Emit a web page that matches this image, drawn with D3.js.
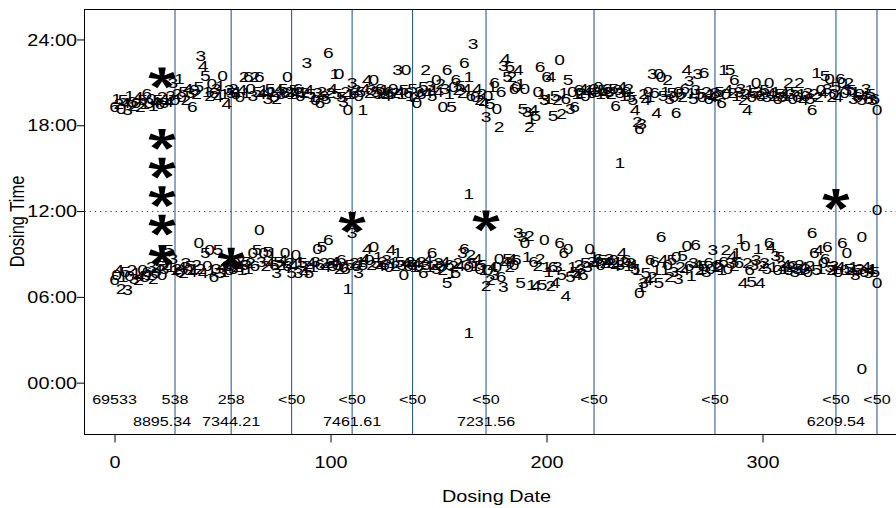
<!DOCTYPE html>
<html><head><meta charset="utf-8">
<script src="https://cdn.jsdelivr.net/npm/d3@7"></script>
<style>
html,body{margin:0;padding:0;background:#fff;}
text{font-family:"Liberation Sans",Arial,sans-serif;fill:#000;}
</style></head>
<body><svg id="chart" width="896" height="508"></svg>
<script>
// ---------- DATA ----------
const firstDay = 0;
const eveningHours = [
19.3,19.9,19.5,19.2,19.8,19.6,19.1,20.1,19.7,19.4,
19.6,20.0,19.3,19.8,19.5,20.2,19.6,19.9,19.4,19.7,
19.8,19.5,20.0,19.6,19.9,19.7,20.1,21.0,19.8,20.2,
21.3,20.0,20.4,19.8,20.6,20.3,19.3,20.5,20.2,20.7,
22.9,22.2,21.5,20.4,20.1,20.9,20.3,20.6,20.0,20.8,
21.5,20.2,19.5,20.5,20.3,20.6,20.2,20.4,20.0,20.5,
21.4,20.3,21.4,20.6,20.1,21.4,20.4,21.4,20.2,20.5,
20.3,19.9,20.6,20.4,20.0,19.9,20.5,20.2,20.6,20.3,
21.4,20.4,20.2,20.5,20.3,20.6,20.1,20.4,20.3,22.4,
20.5,20.2,20.0,19.8,20.3,19.6,20.4,20.1,19.9,23.1,
20.3,20.6,21.6,20.2,21.6,20.0,19.7,20.4,19.1,20.2,
21.0,20.3,20.5,20.1,20.4,19.1,20.6,21.2,20.3,20.5,
21.2,20.4,20.2,20.6,20.3,20.5,20.1,20.4,20.2,20.6,
20.3,21.9,20.4,20.2,20.5,21.9,20.3,20.1,20.6,20.0,
19.6,20.4,20.2,20.7,21.9,20.3,20.8,20.1,20.5,21.2,
20.4,20.9,19.3,20.6,21.9,20.2,19.3,20.7,21.2,20.5,
20.8,20.3,22.4,20.6,21.4,20.1,23.7,20.0,20.6,19.8,
20.2,19.6,18.6,20.1,19.5,20.7,21.0,19.2,17.9,20.4,
22.2,22.7,21.4,22.1,21.4,20.6,20.7,21.9,20.9,19.2,
20.6,19.0,17.9,18.5,19.1,18.7,20.4,22.1,20.2,19.8,
21.4,19.9,21.4,18.7,20.1,19.8,22.6,18.8,20.3,19.9,
21.2,19.2,20.4,19.3,20.2,20.5,20.3,20.6,20.1,20.4,
20.5,20.3,20.6,20.4,20.7,20.2,20.5,20.3,20.6,20.4,
20.2,20.6,19.4,20.5,20.3,20.7,20.1,20.4,20.6,20.0,
19.8,19.1,18.3,17.8,18.1,20.2,19.8,20.4,20.0,21.6,
20.3,18.9,21.6,21.4,20.1,20.4,21.2,19.9,20.3,20.0,
18.9,20.4,20.2,20.0,20.6,21.9,21.1,20.3,19.9,20.5,
21.6,20.2,20.0,21.7,20.4,19.9,20.2,20.0,20.3,20.1,
20.4,19.6,21.9,20.2,20.5,21.9,20.3,21.2,20.1,20.4,
20.6,19.8,20.2,19.1,20.5,20.0,20.3,21.0,20.4,20.1,
20.2,20.5,20.0,21.0,20.3,20.1,20.4,19.9,20.2,20.0,
20.3,20.1,21.0,20.2,19.9,20.4,20.0,21.0,20.2,19.8,
20.1,20.3,19.9,19.1,20.2,21.7,20.0,20.5,20.3,21.5,
20.6,21.3,20.0,20.2,20.7,20.0,21.3,21.0,20.3,20.5,
21.0,20.5,19.9,20.4,20.0,20.2,19.8,20.1,20.6,19.9,
20.2,19.8,19.9,19.1];
const eveningDigits =
"6120543162 0425163014 5620143302 1052436025 3451206341 0143526104 2160325641 4351024356 0215460123 4510362356 " +
"2415053201 3620514423 0536214650 2341506152 0365243510 4203615062 5264163042 2430516026 3455260415 0321450613 " +
"6145520216 5306162404 1623015463 2560341025 5426324013 6400512350 6052643153 3506261482 5610452613 3224165036 " +
"2530421653 4123056214 0356212045 3020546003 2531605436 5360";
const morningHours = [
7.2,7.6,7.9,6.6,7.4,7.8,6.5,7.5,7.9,7.3,
7.7,7.2,7.5,7.9,7.4,7.8,7.6,8.1,7.3,7.7,
7.9,8.2,7.6,8.0,8.3,9.3,8.1,8.7,7.9,8.0,
7.8,8.1,7.7,8.4,7.9,8.2,7.8,8.0,8.3,9.8,
8.0,7.7,9.1,8.2,9.3,7.9,7.4,8.0,9.3,7.7,
8.1,7.8,8.2,7.9,8.3,8.0,8.4,8.1,8.2,7.9,
8.3,8.5,8.0,8.4,9.1,8.2,9.3,10.7,8.5,9.1,
8.2,9.2,8.4,9.1,8.3,7.7,8.5,8.3,8.6,9.1,
8.2,8.4,7.7,8.3,9.0,7.7,8.5,8.4,7.8,8.2,
7.7,8.4,8.1,8.5,9.4,8.3,9.5,8.4,8.1,10.0,
8.4,8.2,8.5,8.3,8.0,8.6,8.1,8.0,6.6,8.3,
10.5,8.4,8.2,7.7,8.5,8.3,8.7,9.4,8.6,8.3,
9.5,8.4,8.8,8.2,8.5,8.3,8.6,8.1,9.3,8.4,
8.2,9.1,8.5,8.3,7.6,8.4,8.2,8.5,8.3,8.1,
8.4,8.2,8.5,7.7,8.3,8.6,8.1,9.1,8.3,8.0,
8.4,8.2,7.9,8.5,7.0,8.3,7.7,8.2,7.7,8.4,
8.2,9.1,9.4,8.3,8.1,9.0,8.4,8.2,8.7,8.0,
8.3,7.9,6.8,7.9,7.2,8.1,7.6,8.1,8.7,7.4,
6.7,8.4,8.7,8.1,8.7,8.3,8.6,10.5,7.0,10.2,
9.8,8.8,10.3,6.9,8.5,6.8,8.2,8.7,6.9,10.0,
8.1,7.8,6.8,8.1,7.0,8.1,9.8,7.6,9.1,6.1,
9.4,7.4,8.1,7.8,7.6,8.3,8.0,7.6,8.4,8.1,
9.4,8.5,8.8,8.4,8.7,8.3,8.6,8.4,8.5,8.7,
8.4,8.6,8.2,8.5,8.3,9.1,8.5,8.6,8.2,8.4,
8.3,8.0,7.9,6.3,6.7,7.0,7.7,7.2,8.6,7.4,
8.5,7.9,7.0,10.2,8.6,7.9,8.3,7.4,8.6,7.8,
8.8,7.3,8.1,8.9,7.9,9.6,8.2,7.5,8.4,9.7,
8.3,7.9,8.0,8.2,7.8,8.4,8.0,9.3,8.2,8.1,
8.3,7.9,8.5,9.3,8.0,8.4,8.9,8.2,9.1,8.4,
10.1,7.0,9.6,8.4,7.9,7.1,8.3,8.6,9.4,7.0,
8.2,8.4,8.0,9.8,9.5,8.1,8.9,7.9,8.8,8.2,
8.0,8.3,7.9,8.1,8.2,7.8,8.0,8.3,7.9,8.1,
8.0,7.8,8.2,10.5,9.1,7.9,9.3,8.0,8.4,8.7,
9.5,8.1,7.9,8.2,8.0,7.8,8.1,9.8,7.9,9.1,
8.0,7.8,8.1,7.6,7.9,8.0,10.2,7.8,8.1,7.7,
7.9,8.0,7.8,7.0];
const morningDigits =
"6042153023 1240561326 4503251312 6423054120 2450016353 4126350241 3512065030 2541635240 6254031542 5413065246 " +
"3540260615 3263154402 0514263041 2153046251 4026341625 3024561252 4363025140 5120243006 3452406353 0121642250 " +
"1126436564 0515423653 0214605243 2041342613 4510135462 6156410253 0325406136 4215360312 5162034216 1402653314 " +
"2356413052 1462035214 3026654106 6523104600 5413520645 4150";
const extraDays   = [234, 164, 164, 353, 346];
const extraHours  = [15.4, 13.2, 3.5, 12.1, 1.0];
const extraDigits = ["1", "1", "1", "0", "0"];
const starDays  = [22, 22, 22, 22, 22, 22, 54, 110, 172, 334];
const starHours = [21.3, 17.0, 15.0, 13.0, 11.0, 8.9, 8.7, 11.2, 11.3, 12.8];
const lineDays = [28, 54, 82, 110, 138, 172, 222, 278, 334, 353];
const topLabelDays = [0, 28, 54, 82, 110, 138, 172, 222, 278, 334, 353];
const topLabels = ["69533", "538", "258", "<50", "<50", "<50", "<50", "<50", "<50", "<50", "<50"];
const bottomLabelDays = [22, 54, 110, 172, 334];
const bottomLabels = ["8895.34", "7344.21", "7461.61", "7231.56", "6209.54"];
const xTicks = [0, 100, 200, 300];
const yTicks = [0, 6, 12, 18, 24];
const yTickLabels = ["00:00", "06:00", "12:00", "18:00", "24:00"];
const referenceHour = 12;

// ---------- CHART ----------
const SX = 1.24; // horizontal text stretch of the original
const svg = d3.select("#chart");
const L = 84.5, T = 9.5, R = 908, B = 434.5;
const x = d3.scaleLinear().domain([-13.9, 366.9]).range([84.5, 907]);
const y = d3.scaleLinear().domain([-3.59, 26.13]).range([434, 9]);

function toPoints(hours, digits) {
  const ds = digits.replace(/ /g, "").split("");
  return hours.map((h, i) => ({day: firstDay + i, hour: h, label: ds[i]}));
}
const points = toPoints(eveningHours, eveningDigits)
  .concat(toPoints(morningHours, morningDigits))
  .concat(extraDays.map((d, i) => ({day: d, hour: extraHours[i], label: extraDigits[i]})));

// vertical lines
svg.append("g").selectAll("line").data(lineDays).join("line")
  .attr("x1", d => x(d)).attr("x2", d => x(d))
  .attr("y1", T).attr("y2", B)
  .attr("stroke", "#1a4f8c").attr("stroke-width", 1);

// dotted reference line
svg.append("line")
  .attr("x1", L).attr("x2", R)
  .attr("y1", Math.round(y(referenceHour)) + 0.5).attr("y2", Math.round(y(referenceHour)) + 0.5)
  .attr("stroke", "#333").attr("stroke-width", 1).attr("stroke-dasharray", "1.2,4");

// digit points
const fsPt = 15.5;
svg.append("g").selectAll("g").data(points).join("g")
  .attr("transform", d => `translate(${x(d.day)},${y(d.hour)}) scale(${SX},1)`)
  .append("text").attr("text-anchor", "middle")
  .attr("dy", fsPt * 0.358).attr("font-size", fsPt)
  .text(d => d.label);

// asterisks
function starPath(r) {
  let p = "";
  for (let k = 0; k < 5; k++) {
    const a = -Math.PI / 2 + k * 2 * Math.PI / 5;
    const ca = Math.cos(a), sa = Math.sin(a), cp = -sa, sp = ca;
    const wb = 1.6, wt = 3.0;
    const pts = [
      [ca * 0 + cp * wb, sa * 0 + sp * wb],
      [ca * r + cp * wt, sa * r + sp * wt],
      [ca * r - cp * wt, sa * r - sp * wt],
      [-cp * wb, -sp * wb]
    ];
    p += "M" + pts.map(q => q[0].toFixed(2) + "," + q[1].toFixed(2)).join("L") + "Z";
  }
  return p;
}
svg.append("g").selectAll("path").data(starDays.map((d, i) => ({day: d, hour: starHours[i]})))
  .join("path")
  .attr("transform", d => `translate(${x(d.day)},${y(d.hour)}) scale(${SX},1)`)
  .attr("d", starPath(10.5)).attr("fill", "#000");

// concentration labels
const fsLab = 13;
svg.append("g").selectAll("g").data(topLabelDays.map((d, i) => ({day: d, t: topLabels[i]})))
  .join("g").attr("transform", d => `translate(${x(d.day)},399.5) scale(${SX},1)`)
  .append("text").attr("text-anchor", "middle").attr("dy", fsLab * 0.358)
  .attr("font-size", fsLab).text(d => d.t);
svg.append("g").selectAll("g").data(bottomLabelDays.map((d, i) => ({day: d, t: bottomLabels[i]})))
  .join("g").attr("transform", d => `translate(${x(d.day)},421.7) scale(${SX},1)`)
  .append("text").attr("text-anchor", "middle").attr("dy", fsLab * 0.358)
  .attr("font-size", fsLab).text(d => d.t);

// box
svg.append("rect").attr("x", L).attr("y", T).attr("width", R - L).attr("height", B - T)
  .attr("fill", "none").attr("stroke", "#000").attr("stroke-width", 1);

// axes
const fsTick = 16;
const gx = svg.append("g").attr("transform", `translate(0,${B})`)
  .call(d3.axisBottom(x).tickValues(xTicks).tickSize(8).tickSizeOuter(0).tickFormat(d3.format("d")));
gx.select(".domain").remove();
gx.selectAll(".tick line").attr("stroke", "#000");
gx.selectAll(".tick text").attr("font-size", fsTick).attr("font-family", null)
  .attr("y", 0).attr("dy", fsTick * 0.358)
  .attr("transform", `translate(0,28.2) scale(${SX},1)`).attr("fill", "#000");

const gy = svg.append("g").attr("transform", `translate(${L},0)`)
  .call(d3.axisLeft(y).tickValues(yTicks).tickSize(7.5).tickSizeOuter(0)
    .tickFormat((d, i) => yTickLabels[i]));
gy.select(".domain").remove();
gy.selectAll(".tick line").attr("stroke", "#000");
gy.selectAll(".tick text").attr("font-size", fsTick).attr("font-family", null)
  .attr("x", 0).attr("dy", fsTick * 0.358)
  .attr("transform", `translate(-7.5,0) scale(${SX},1)`).attr("fill", "#000");

// axis titles
svg.append("g").attr("transform", `translate(496.5,496.7) scale(${SX},1)`)
  .append("text").attr("text-anchor", "middle").attr("dy", 16 * 0.358)
  .attr("font-size", 16).text("Dosing Date");
svg.append("g").attr("transform", `translate(24,221.5) scale(${SX},1) rotate(-90)`)
  .append("text").attr("text-anchor", "middle").attr("font-size", 16.5).text("Dosing Time");
</script></body></html>
